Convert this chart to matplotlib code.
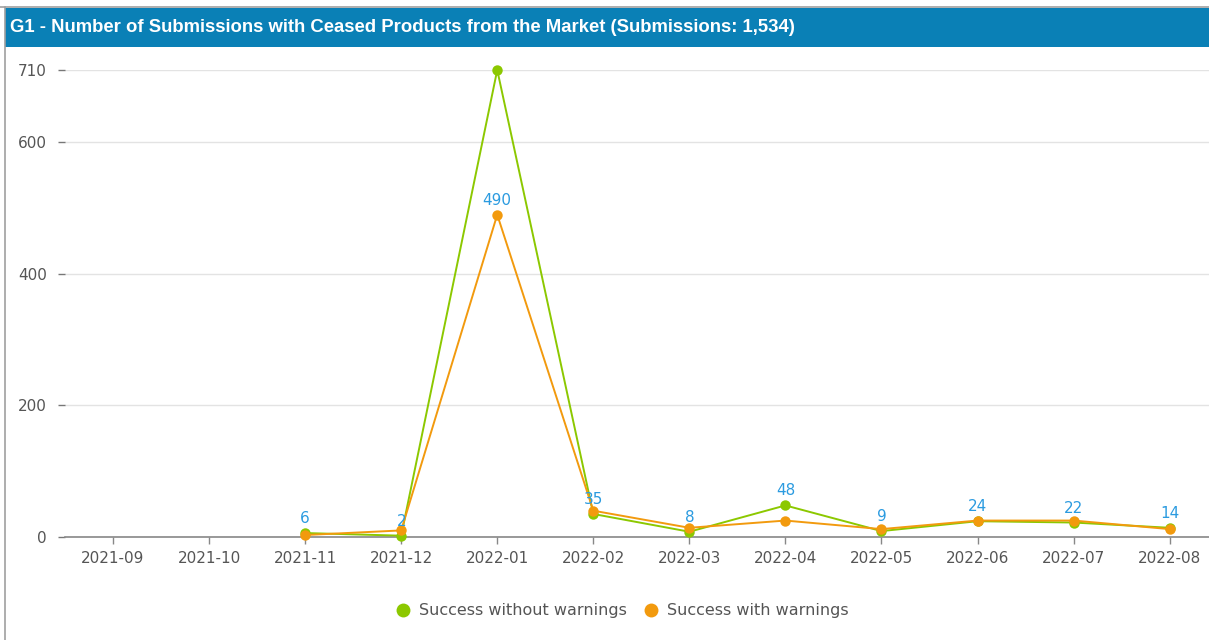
#!/usr/bin/env python3
# -*- coding: utf-8 -*-
"""Submissions with ceased products line chart"""

import numpy as np
import matplotlib
matplotlib.use("Agg")
import matplotlib.pyplot as plt
from matplotlib.lines import Line2D

months = ["2021-09", "2021-10", "2021-11", "2021-12", "2022-01", "2022-02",
          "2022-03", "2022-04", "2022-05", "2022-06", "2022-07", "2022-08"]
without_warnings = [np.nan, np.nan, 6, 2, 710, 35, 8, 48, 9, 24, 22, 14]
with_warnings = [np.nan, np.nan, 3, 10, 490, 40, 14, 25, 12, 25, 25, 12]
point_labels = [None, None, 6, 2, 490, 35, 8, 48, 9, 24, 22, 14]
y_ticks = [0, 200, 400, 600, 710]

GREEN = "#8cc800"
ORANGE = "#f29a0e"
LABEL_BLUE = "#2b9be0"
TITLE_BG = "#0a80b6"
TEXT_GRAY = "#555555"
FONT = ["DejaVu Sans"]

W, H = 1209, 640
fig = plt.figure(figsize=(W / 100, H / 100), dpi=100)


def px(x0, y0, x1, y1):
    # pixel box (top-left origin) -> figure fraction rect
    return [x0 / W, 1 - y1 / H, (x1 - x0) / W, (y1 - y0) / H]


# title bar
bar = fig.add_axes(px(5, 8, W, 47))
bar.set_facecolor(TITLE_BG)
bar.set_xticks([])
bar.set_yticks([])
for s in bar.spines.values():
    s.set_visible(False)
bar.text(0.004, 0.5, "G1 - Number of Submissions with Ceased Products from the Market (Submissions: 1,534)",
         color="white", fontsize=13.3, fontweight="bold", va="center", ha="left",
         family=["Liberation Sans", "DejaVu Sans"], transform=bar.transAxes)

# outer frame lines
fig.add_artist(Line2D([0, 1], [1 - 7 / H, 1 - 7 / H], color="#a0a0a0", lw=1.2))
fig.add_artist(Line2D([5 / W, 5 / W], [0, 1 - 7 / H], color="#a0a0a0", lw=1.2))

ax = fig.add_axes(px(65, 70, W, 537))
x = np.arange(len(months))

ax.plot(x, without_warnings, color=GREEN, lw=1.4, marker="o", ms=7.5,
        markeredgewidth=0, zorder=3, clip_on=False, label="Success without warnings")
ax.plot(x, with_warnings, color=ORANGE, lw=1.4, marker="o", ms=7.5,
        markeredgewidth=0, zorder=4, clip_on=False, label="Success with warnings")

for xi, lab in zip(x, point_labels):
    if lab is None:
        continue
    ax.annotate(str(lab), (xi, lab), xytext=(0, 5), textcoords="offset points",
                ha="center", va="bottom", color=LABEL_BLUE, fontsize=11,
                family=FONT, zorder=5)

ax.set_xlim(-0.5, len(months) - 1 + 0.41)
ax.set_ylim(0, 710)
ax.set_yticks(y_ticks)
ax.set_yticklabels([str(v) for v in y_ticks])
ax.set_xticks(x)
ax.set_xticklabels(months)
ax.grid(axis="y", color="#e3e3e3", lw=1)
ax.set_axisbelow(True)
for side in ["left", "right", "top"]:
    ax.spines[side].set_visible(False)
ax.spines["bottom"].set_color("#888888")
ax.spines["bottom"].set_linewidth(1.2)
ax.tick_params(axis="y", length=5, width=1, color="#777777", pad=8,
               labelcolor=TEXT_GRAY, labelsize=11)
ax.tick_params(axis="x", length=5, width=1, color="#888888", pad=5,
               labelcolor=TEXT_GRAY, labelsize=11)
for t in ax.get_xticklabels() + ax.get_yticklabels():
    t.set_family(FONT)

handles = [Line2D([], [], ls="none", marker="o", ms=10, markeredgewidth=0, color=GREEN),
           Line2D([], [], ls="none", marker="o", ms=10, markeredgewidth=0, color=ORANGE)]
fig.legend(handles, ["Success without warnings", "Success with warnings"],
           loc="center", bbox_to_anchor=(622 / W, 1 - 611 / H), ncol=2, frameon=False,
           handletextpad=0.5, columnspacing=1.0, handlelength=1.0,
           prop={"family": FONT, "size": 11.5},
           labelcolor=TEXT_GRAY)

fig.savefig("out.png", dpi=100)
